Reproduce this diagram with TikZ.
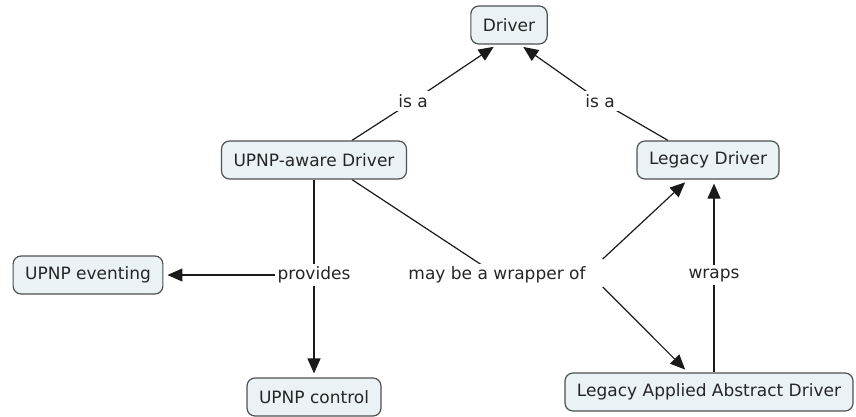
\documentclass[tikz,border=0pt]{standalone}
\usepackage{fontspec}
\setmainfont{DejaVu Sans}
\usetikzlibrary{arrows.meta,calc,backgrounds}
\definecolor{boxfill}{HTML}{EAF2F6}
\definecolor{boxdraw}{HTML}{505050}
\definecolor{txt}{HTML}{262626}
\definecolor{ln}{HTML}{1A1A1A}
\tikzset{
  concept/.style={draw=boxdraw, fill=boxfill, line width=1.2pt, rounded corners=8pt,
    inner xsep=12pt, minimum height=38pt, text=txt, font=\fontsize{17}{20}\selectfont},
  lbl/.style={fill=white, inner sep=3pt, text=txt, font=\fontsize{17}{20}\selectfont},
  conn/.style={draw=ln, line width=1.2pt},
  arr/.style={conn, -{Triangle[length=15pt,width=13pt]}, shorten >=4pt},
}
\begin{document}
\begin{tikzpicture}[x=1pt,y=-1pt]
\useasboundingbox (0,0) rectangle (856,416);
\node[concept] (driver) at (509,25) {Driver};
\node[concept] (upnp) at (314,160) {UPNP-aware Driver};
\node[concept] (legacy) at (708,160) {Legacy Driver};
\node[concept] (event) at (88,275) {UPNP eventing};
\node[concept] (control) at (314,397) {UPNP control};
\node[concept] (applied) at (709,392) {Legacy Applied Abstract Driver};

\node[lbl] (isa1) at (413,101) {is a};
\node[lbl] (isa2) at (600,101) {is a};
\node[lbl] (prov) at (314,275) {provides};
\node[lbl] (mw) at (497,275) {may be a wrapper of};
\node[lbl] (wraps) at (714,275) {wraps};

\begin{scope}[on background layer]
  \draw[conn] ($(upnp.north)+(38,0)$) -- (isa1.center);
  \draw[arr] (isa1.center) -- ($(driver.south)+(-12,0)$);
  \draw[conn] ($(legacy.north)+(-40,0)$) -- (isa2.center);
  \draw[arr] (isa2.center) -- ($(driver.south)+(11,0)$);
  \draw[conn] (upnp.south) -- (prov.center);
  \draw[arr] (prov.center) -- (event.east);
  \draw[arr] (prov.center) -- (control.north);
  \draw[conn] ($(upnp.south)+(38,0)$) -- (mw.center);
  \draw[arr] ($(mw.east)+(14,-16)$) -- ($(legacy.south)+(-20,0)$);
  \draw[arr] ($(mw.east)+(14,12)$) -- ($(applied.north)+(-21,0)$);
  \draw[conn] ($(applied.north)+(5,0)$) -- (wraps.center);
  \draw[arr] (wraps.center) -- ($(legacy.south)+(6,0)$);
\end{scope}
\end{tikzpicture}
\end{document}
